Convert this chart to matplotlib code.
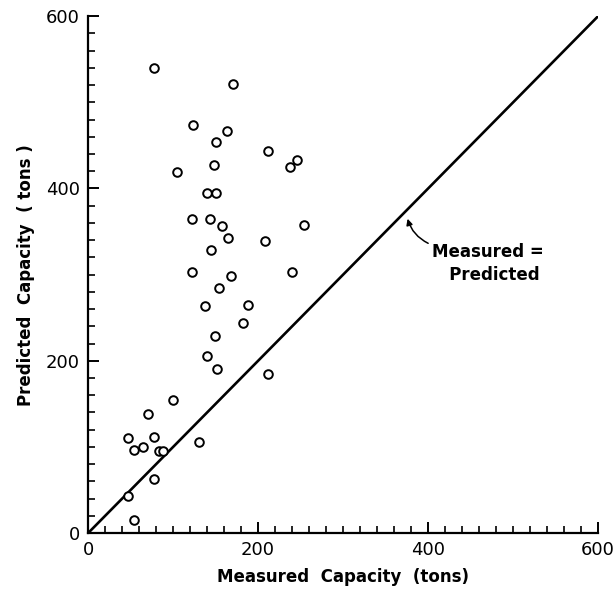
import numpy as np
import matplotlib.pyplot as plt
from matplotlib.ticker import MultipleLocator

# measured vs predicted pile capacity (tons)
measured = [78, 170, 123, 163, 151, 212, 246, 238, 148, 105, 140, 150,
            122, 143, 157, 254, 164, 208, 145, 122, 168, 240,
            154, 138, 188, 182, 149, 140, 152, 212,
            100, 70, 47, 78, 54, 65, 83, 88, 130, 77, 47, 54]
predicted = [540, 521, 474, 467, 454, 444, 433, 425, 427, 419, 395, 395,
             365, 365, 357, 358, 342, 339, 329, 303, 299, 303,
             285, 264, 265, 244, 229, 206, 191, 185,
             155, 138, 110, 111, 96, 100, 95, 95, 106, 63, 43, 15]
line_x = [0, 600]

fig = plt.figure(figsize=(6.16, 5.99), dpi=100)
ax = fig.add_axes([0.143, 0.110, 0.828, 0.863])

ax.plot(line_x, line_x, color='black', lw=1.9, zorder=2)
ax.plot(measured, predicted, 'o', ms=6.2, mfc='white', mec='black',
        mew=1.4, zorder=3)

# label for the 1:1 line, with a short curved arrow
ax.text(405, 313, 'Measured =\n   Predicted', fontsize=12, fontweight='bold',
        va='center', ha='left', linespacing=1.3)
ax.annotate('', xy=(375, 368), xytext=(403, 335),
            arrowprops=dict(arrowstyle='-|>', color='black', lw=1.1,
                            mutation_scale=9,
                            connectionstyle='arc3,rad=-0.25'))

ax.set_xlim(0, 600)
ax.set_ylim(0, 600)
for s in ['top', 'right']:
    ax.spines[s].set_visible(False)
for s in ['left', 'bottom']:
    ax.spines[s].set_linewidth(1.6)

ax.xaxis.set_major_locator(MultipleLocator(200))
ax.yaxis.set_major_locator(MultipleLocator(200))
ax.xaxis.set_minor_locator(MultipleLocator(20))
ax.yaxis.set_minor_locator(MultipleLocator(20))
ax.tick_params(which='major', direction='in', length=8, width=1.4,
               labelsize=13, pad=6)
ax.tick_params(which='minor', direction='in', length=5, width=1.2)

ax.set_xlabel('Measured  Capacity  (tons)', fontsize=12, fontweight='bold',
              labelpad=6)
ax.set_ylabel('Predicted  Capacity  ( tons )', fontsize=12, fontweight='bold',
              labelpad=8)

fig.savefig('out.png', dpi=100)
